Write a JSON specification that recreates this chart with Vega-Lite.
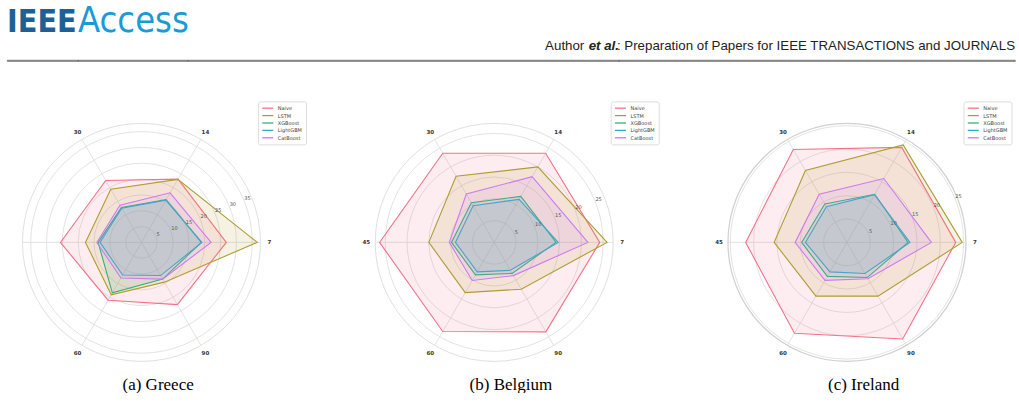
{
  "$schema": "https://vega.github.io/schema/vega-lite/v6.json",
  "background": "white",
  "padding": {"left": 6, "top": 2, "right": 0, "bottom": 0},
  "config": {"view": {"stroke": null}, "font": "DejaVu Sans"},
  "datasets": {
    "scores": [
      {"country": "Greece", "model": "Naive", "horizon": 7, "value": 26.8},
      {"country": "Greece", "model": "Naive", "horizon": 14, "value": 23.1},
      {"country": "Greece", "model": "Naive", "horizon": 30, "value": 22.6},
      {"country": "Greece", "model": "Naive", "horizon": 45, "value": 25.6},
      {"country": "Greece", "model": "Naive", "horizon": 60, "value": 21.1},
      {"country": "Greece", "model": "Naive", "horizon": 90, "value": 22.7},
      {"country": "Greece", "model": "LSTM", "horizon": 7, "value": 36.6},
      {"country": "Greece", "model": "LSTM", "horizon": 14, "value": 23.0},
      {"country": "Greece", "model": "LSTM", "horizon": 30, "value": 19.4},
      {"country": "Greece", "model": "LSTM", "horizon": 45, "value": 17.7},
      {"country": "Greece", "model": "LSTM", "horizon": 60, "value": 19.1},
      {"country": "Greece", "model": "LSTM", "horizon": 90, "value": 14.5},
      {"country": "Greece", "model": "XGBoost", "horizon": 7, "value": 18.9},
      {"country": "Greece", "model": "XGBoost", "horizon": 14, "value": 15.6},
      {"country": "Greece", "model": "XGBoost", "horizon": 30, "value": 12.7},
      {"country": "Greece", "model": "XGBoost", "horizon": 45, "value": 13.7},
      {"country": "Greece", "model": "XGBoost", "horizon": 60, "value": 18.4},
      {"country": "Greece", "model": "XGBoost", "horizon": 90, "value": 13.4},
      {"country": "Greece", "model": "LightGBM", "horizon": 7, "value": 19.1},
      {"country": "Greece", "model": "LightGBM", "horizon": 14, "value": 15.4},
      {"country": "Greece", "model": "LightGBM", "horizon": 30, "value": 12.5},
      {"country": "Greece", "model": "LightGBM", "horizon": 45, "value": 13.1},
      {"country": "Greece", "model": "LightGBM", "horizon": 60, "value": 11.9},
      {"country": "Greece", "model": "LightGBM", "horizon": 90, "value": 12.1},
      {"country": "Greece", "model": "CatBoost", "horizon": 7, "value": 22.0},
      {"country": "Greece", "model": "CatBoost", "horizon": 14, "value": 18.1},
      {"country": "Greece", "model": "CatBoost", "horizon": 30, "value": 13.6},
      {"country": "Greece", "model": "CatBoost", "horizon": 45, "value": 14.1},
      {"country": "Greece", "model": "CatBoost", "horizon": 60, "value": 13.0},
      {"country": "Greece", "model": "CatBoost", "horizon": 90, "value": 13.4},
      {"country": "Belgium", "model": "Naive", "horizon": 7, "value": 24.2},
      {"country": "Belgium", "model": "Naive", "horizon": 14, "value": 23.6},
      {"country": "Belgium", "model": "Naive", "horizon": 30, "value": 23.6},
      {"country": "Belgium", "model": "Naive", "horizon": 45, "value": 26.3},
      {"country": "Belgium", "model": "Naive", "horizon": 60, "value": 23.6},
      {"country": "Belgium", "model": "Naive", "horizon": 90, "value": 23.7},
      {"country": "Belgium", "model": "LSTM", "horizon": 7, "value": 25.9},
      {"country": "Belgium", "model": "LSTM", "horizon": 14, "value": 20.0},
      {"country": "Belgium", "model": "LSTM", "horizon": 30, "value": 17.5},
      {"country": "Belgium", "model": "LSTM", "horizon": 45, "value": 15.0},
      {"country": "Belgium", "model": "LSTM", "horizon": 60, "value": 13.3},
      {"country": "Belgium", "model": "LSTM", "horizon": 90, "value": 12.4},
      {"country": "Belgium", "model": "XGBoost", "horizon": 7, "value": 14.2},
      {"country": "Belgium", "model": "XGBoost", "horizon": 14, "value": 12.2},
      {"country": "Belgium", "model": "XGBoost", "horizon": 30, "value": 10.5},
      {"country": "Belgium", "model": "XGBoost", "horizon": 45, "value": 9.8},
      {"country": "Belgium", "model": "XGBoost", "horizon": 60, "value": 8.6},
      {"country": "Belgium", "model": "XGBoost", "horizon": 90, "value": 8.2},
      {"country": "Belgium", "model": "LightGBM", "horizon": 7, "value": 14.7},
      {"country": "Belgium", "model": "LightGBM", "horizon": 14, "value": 11.4},
      {"country": "Belgium", "model": "LightGBM", "horizon": 30, "value": 9.7},
      {"country": "Belgium", "model": "LightGBM", "horizon": 45, "value": 8.9},
      {"country": "Belgium", "model": "LightGBM", "horizon": 60, "value": 7.8},
      {"country": "Belgium", "model": "LightGBM", "horizon": 90, "value": 7.4},
      {"country": "Belgium", "model": "CatBoost", "horizon": 7, "value": 21.5},
      {"country": "Belgium", "model": "CatBoost", "horizon": 14, "value": 17.4},
      {"country": "Belgium", "model": "CatBoost", "horizon": 30, "value": 12.8},
      {"country": "Belgium", "model": "CatBoost", "horizon": 45, "value": 10.3},
      {"country": "Belgium", "model": "CatBoost", "horizon": 60, "value": 10.1},
      {"country": "Belgium", "model": "CatBoost", "horizon": 90, "value": 8.8},
      {"country": "Ireland", "model": "Naive", "horizon": 7, "value": 23.3},
      {"country": "Ireland", "model": "Naive", "horizon": 14, "value": 23.5},
      {"country": "Ireland", "model": "Naive", "horizon": 30, "value": 23.0},
      {"country": "Ireland", "model": "Naive", "horizon": 45, "value": 21.7},
      {"country": "Ireland", "model": "Naive", "horizon": 60, "value": 22.5},
      {"country": "Ireland", "model": "Naive", "horizon": 90, "value": 23.9},
      {"country": "Ireland", "model": "LSTM", "horizon": 7, "value": 24.7},
      {"country": "Ireland", "model": "LSTM", "horizon": 14, "value": 24.1},
      {"country": "Ireland", "model": "LSTM", "horizon": 30, "value": 17.8},
      {"country": "Ireland", "model": "LSTM", "horizon": 45, "value": 15.6},
      {"country": "Ireland", "model": "LSTM", "horizon": 60, "value": 13.3},
      {"country": "Ireland", "model": "LSTM", "horizon": 90, "value": 13.3},
      {"country": "Ireland", "model": "XGBoost", "horizon": 7, "value": 13.1},
      {"country": "Ireland", "model": "XGBoost", "horizon": 14, "value": 11.9},
      {"country": "Ireland", "model": "XGBoost", "horizon": 30, "value": 9.5},
      {"country": "Ireland", "model": "XGBoost", "horizon": 45, "value": 9.7},
      {"country": "Ireland", "model": "XGBoost", "horizon": 60, "value": 8.4},
      {"country": "Ireland", "model": "XGBoost", "horizon": 90, "value": 8.7},
      {"country": "Ireland", "model": "LightGBM", "horizon": 7, "value": 13.5},
      {"country": "Ireland", "model": "LightGBM", "horizon": 14, "value": 11.8},
      {"country": "Ireland", "model": "LightGBM", "horizon": 30, "value": 8.8},
      {"country": "Ireland", "model": "LightGBM", "horizon": 45, "value": 8.9},
      {"country": "Ireland", "model": "LightGBM", "horizon": 60, "value": 7.3},
      {"country": "Ireland", "model": "LightGBM", "horizon": 90, "value": 7.7},
      {"country": "Ireland", "model": "CatBoost", "horizon": 7, "value": 18.1},
      {"country": "Ireland", "model": "CatBoost", "horizon": 14, "value": 15.8},
      {"country": "Ireland", "model": "CatBoost", "horizon": 30, "value": 11.9},
      {"country": "Ireland", "model": "CatBoost", "horizon": 45, "value": 11.1},
      {"country": "Ireland", "model": "CatBoost", "horizon": 60, "value": 9.4},
      {"country": "Ireland", "model": "CatBoost", "horizon": 90, "value": 9.0}
    ],
    "horizons": [
      {"horizon": 7}, {"horizon": 14}, {"horizon": 30}, {"horizon": 45}, {"horizon": 60}, {"horizon": 90}
    ],
    "ticks": [
      {"country": "Greece", "r": 5}, {"country": "Greece", "r": 10}, {"country": "Greece", "r": 15},
      {"country": "Greece", "r": 20}, {"country": "Greece", "r": 25}, {"country": "Greece", "r": 30},
      {"country": "Greece", "r": 35},
      {"country": "Belgium", "r": 5}, {"country": "Belgium", "r": 10}, {"country": "Belgium", "r": 15},
      {"country": "Belgium", "r": 20}, {"country": "Belgium", "r": 25},
      {"country": "Ireland", "r": 5}, {"country": "Ireland", "r": 10}, {"country": "Ireland", "r": 15},
      {"country": "Ireland", "r": 20}, {"country": "Ireland", "r": 25}
    ]
  },
  "spacing": 36.4,
  "vconcat": [
    {
      "hconcat": [
        {
          "width": 71, "height": 1,
          "view": {"stroke": "#555555", "strokeWidth": 0.8},
          "title": {"text": "IEEE", "anchor": "start", "orient": "top", "font": "Liberation Sans Narrow, DejaVu Sans Condensed, sans-serif", "fontSize": 32, "fontWeight": "bold", "color": "#1d5f96", "baseline": "alphabetic", "offset": -3.5, "frame": "group"},
          "data": {"values": []},
          "mark": "point",
          "encoding": {}
        },
        {
          "width": 110, "height": 1,
          "view": {"stroke": "#555555", "strokeWidth": 0.8},
          "title": {"text": "Access", "anchor": "start", "orient": "top", "font": "Liberation Sans Narrow, DejaVu Sans Condensed, sans-serif", "fontSize": 36, "fontWeight": "normal", "color": "#1a9ad6", "baseline": "alphabetic", "offset": -7.5, "frame": "group"},
          "data": {"values": []},
          "mark": "point",
          "encoding": {}
        },
        {
          "width": 396.3, "height": 1,
          "view": {"stroke": "#555555", "strokeWidth": 0.8},
          "title": {"text": "Author", "anchor": "end", "orient": "top", "font": "Liberation Sans", "fontSize": 13.3, "fontWeight": "normal", "color": "#222222", "baseline": "alphabetic", "offset": -3.3, "frame": "group"},
          "data": {"values": []},
          "mark": "point",
          "encoding": {}
        },
        {
          "width": 34, "height": 1,
          "view": {"stroke": "#555555", "strokeWidth": 0.8},
          "title": {"text": "et al.", "anchor": "end", "orient": "top", "font": "Liberation Sans", "fontSize": 13.3, "fontWeight": "bold", "fontStyle": "italic", "color": "#222222", "baseline": "alphabetic", "offset": -3.3, "frame": "group"},
          "data": {"values": []},
          "mark": "point",
          "encoding": {}
        },
        {
          "width": 396, "height": 1,
          "view": {"stroke": "#555555", "strokeWidth": 0.8},
          "title": {"text": ": Preparation of Papers for IEEE TRANSACTIONS and JOURNALS", "anchor": "end", "orient": "top", "font": "Liberation Sans", "fontSize": 13.3, "fontWeight": "normal", "color": "#222222", "baseline": "alphabetic", "offset": -3.3, "frame": "group"},
          "data": {"values": []},
          "mark": "point",
          "encoding": {}
        }
      ],
      "spacing": 0,
      "bounds": "flush"
    },
    {
      "hconcat": [
        {
          "width": 302.26, "height": 266.56,
          "title": {"text": "(a) Greece", "orient": "bottom", "anchor": "middle", "font": "Liberation Serif", "fontSize": 17, "fontWeight": "normal", "color": "#000000", "baseline": "alphabetic", "offset": 25},
          "layer": [
            {
              "data": {"name": "ticks"},
              "transform": [{"filter": "datum.country === 'Greece'"}],
              "mark": {"type": "point", "shape": "circle", "filled": false, "stroke": "#dcdcdc", "strokeWidth": 0.8, "opacity": 1},
              "encoding": {
                "x": {"datum": 0, "type": "quantitative", "scale": {"domain": [-1.13, 1.41], "nice": false, "zero": false}, "axis": null},
                "y": {"datum": 0, "type": "quantitative", "scale": {"domain": [-1.03, 1.21], "nice": false, "zero": false}, "axis": null},
                "size": {"field": "r", "type": "quantitative", "scale": {"type": "pow", "exponent": 2, "domain": [0, 37.6], "range": [0, 56644], "nice": false}, "legend": null}
              }
            },
            {
              "data": {"values": [{"rim": "outer"}]},
              "mark": {"type": "point", "shape": "circle", "filled": false, "stroke": "#dcdcdc", "strokeWidth": 0.9, "opacity": 1, "size": 56644},
              "encoding": {
                "x": {"datum": 0, "type": "quantitative", "scale": {"domain": [-1.13, 1.41], "nice": false, "zero": false}, "axis": null},
                "y": {"datum": 0, "type": "quantitative", "scale": {"domain": [-1.03, 1.21], "nice": false, "zero": false}, "axis": null}
              }
            },
            {
              "data": {"name": "horizons"},
              "transform": [
                {"calculate": "indexof([7,14,30,45,60,90], datum.horizon) * PI / 3", "as": "ang"},
                {"calculate": "cos(datum.ang)", "as": "ex"},
                {"calculate": "sin(datum.ang)", "as": "ey"},
                {"calculate": "0", "as": "o"}
              ],
              "mark": {"type": "rule", "stroke": "#dcdcdc", "strokeWidth": 0.8},
              "encoding": {
                "x": {"field": "o", "type": "quantitative", "scale": {"domain": [-1.13, 1.41], "nice": false, "zero": false}, "axis": null},
                "y": {"field": "o", "type": "quantitative", "scale": {"domain": [-1.03, 1.21], "nice": false, "zero": false}, "axis": null},
                "x2": {"field": "ex"},
                "y2": {"field": "ey"}
              }
            },
            {
              "data": {"name": "scores"},
              "transform": [
                {"filter": "datum.country === 'Greece'"},
                {"calculate": "indexof([7,14,30,45,60,90], datum.horizon) * PI / 3", "as": "ang"},
                {"calculate": "cos(datum.ang) * datum.value / 37.6", "as": "px"},
                {"calculate": "sin(datum.ang) * datum.value / 37.6", "as": "py"}
              ],
              "mark": {"type": "line", "interpolate": "linear-closed", "strokeWidth": 1.1, "fillOpacity": 0.13},
              "encoding": {
                "x": {"field": "px", "type": "quantitative", "scale": {"domain": [-1.13, 1.41], "nice": false, "zero": false}, "axis": null},
                "y": {"field": "py", "type": "quantitative", "scale": {"domain": [-1.03, 1.21], "nice": false, "zero": false}, "axis": null},
                "order": {"field": "ang", "type": "quantitative"},
                "color": {"field": "model", "type": "nominal",
                  "scale": {"domain": ["Naive", "LSTM", "XGBoost", "LightGBM", "CatBoost"], "range": ["#f77189", "#ae9d31", "#33b07a", "#38a9c5", "#cc7af4"]},
                  "legend": {"title": null, "orient": "top-right", "offset": 3, "symbolType": "M-2.2,0H2.2", "symbolSize": 25, "symbolStrokeWidth": 1.3, "symbolOffset": 3, "labelFont": "DejaVu Sans", "labelFontSize": 5, "labelColor": "#444444", "labelOffset": 6.5, "rowPadding": 0.4, "padding": 3.3, "strokeColor": "#dddddd", "fillColor": "white", "cornerRadius": 2}},
                "fill": {"field": "model", "type": "nominal",
                  "scale": {"domain": ["Naive", "LSTM", "XGBoost", "LightGBM", "CatBoost"], "range": ["#f77189", "#ae9d31", "#33b07a", "#38a9c5", "#cc7af4"]},
                  "legend": null}
              }
            },
            {
              "data": {"name": "horizons"},
              "transform": [
                {"filter": "datum.horizon !== 45"},
                {"calculate": "indexof([7,14,30,45,60,90], datum.horizon) * PI / 3", "as": "ang"},
                {"calculate": "1.075 * cos(datum.ang)", "as": "lx"},
                {"calculate": "1.075 * sin(datum.ang)", "as": "ly"}
              ],
              "mark": {"type": "text", "font": "DejaVu Sans", "fontSize": 5.5, "fontWeight": "bold", "color": "#333333", "align": "center", "baseline": "middle"},
              "encoding": {
                "x": {"field": "lx", "type": "quantitative", "scale": {"domain": [-1.13, 1.41], "nice": false, "zero": false}, "axis": null},
                "y": {"field": "ly", "type": "quantitative", "scale": {"domain": [-1.03, 1.21], "nice": false, "zero": false}, "axis": null},
                "text": {"field": "horizon", "type": "nominal"}
              }
            },
            {
              "data": {"name": "ticks"},
              "transform": [
                {"filter": "datum.country === 'Greece'"},
                {"calculate": "cos(PI / 8) * datum.r / 37.6", "as": "tx"},
                {"calculate": "sin(PI / 8) * datum.r / 37.6", "as": "ty"}
              ],
              "mark": {"type": "text", "font": "DejaVu Sans", "fontSize": 5, "color": "#555555", "align": "left", "baseline": "alphabetic", "dx": 0.5},
              "encoding": {
                "x": {"field": "tx", "type": "quantitative", "scale": {"domain": [-1.13, 1.41], "nice": false, "zero": false}, "axis": null},
                "y": {"field": "ty", "type": "quantitative", "scale": {"domain": [-1.03, 1.21], "nice": false, "zero": false}, "axis": null},
                "text": {"field": "r", "type": "nominal"}
              }
            }
          ]
        },
        {
          "width": 302.26, "height": 266.56,
          "title": {"text": "(b) Belgium", "orient": "bottom", "anchor": "middle", "font": "Liberation Serif", "fontSize": 17, "fontWeight": "normal", "color": "#000000", "baseline": "alphabetic", "offset": 25},
          "layer": [
            {
              "data": {"name": "ticks"},
              "transform": [{"filter": "datum.country === 'Belgium'"}],
              "mark": {"type": "point", "shape": "circle", "filled": false, "stroke": "#dcdcdc", "strokeWidth": 0.8, "opacity": 1},
              "encoding": {
                "x": {"datum": 0, "type": "quantitative", "scale": {"domain": [-1.13, 1.41], "nice": false, "zero": false}, "axis": null},
                "y": {"datum": 0, "type": "quantitative", "scale": {"domain": [-1.03, 1.21], "nice": false, "zero": false}, "axis": null},
                "size": {"field": "r", "type": "quantitative", "scale": {"type": "pow", "exponent": 2, "domain": [0, 27.3], "range": [0, 56644], "nice": false}, "legend": null}
              }
            },
            {
              "data": {"values": [{"rim": "outer"}]},
              "mark": {"type": "point", "shape": "circle", "filled": false, "stroke": "#dcdcdc", "strokeWidth": 0.9, "opacity": 1, "size": 56644},
              "encoding": {
                "x": {"datum": 0, "type": "quantitative", "scale": {"domain": [-1.13, 1.41], "nice": false, "zero": false}, "axis": null},
                "y": {"datum": 0, "type": "quantitative", "scale": {"domain": [-1.03, 1.21], "nice": false, "zero": false}, "axis": null}
              }
            },
            {
              "data": {"name": "horizons"},
              "transform": [
                {"calculate": "indexof([7,14,30,45,60,90], datum.horizon) * PI / 3", "as": "ang"},
                {"calculate": "cos(datum.ang)", "as": "ex"},
                {"calculate": "sin(datum.ang)", "as": "ey"},
                {"calculate": "0", "as": "o"}
              ],
              "mark": {"type": "rule", "stroke": "#dcdcdc", "strokeWidth": 0.8},
              "encoding": {
                "x": {"field": "o", "type": "quantitative", "scale": {"domain": [-1.13, 1.41], "nice": false, "zero": false}, "axis": null},
                "y": {"field": "o", "type": "quantitative", "scale": {"domain": [-1.03, 1.21], "nice": false, "zero": false}, "axis": null},
                "x2": {"field": "ex"},
                "y2": {"field": "ey"}
              }
            },
            {
              "data": {"name": "scores"},
              "transform": [
                {"filter": "datum.country === 'Belgium'"},
                {"calculate": "indexof([7,14,30,45,60,90], datum.horizon) * PI / 3", "as": "ang"},
                {"calculate": "cos(datum.ang) * datum.value / 27.3", "as": "px"},
                {"calculate": "sin(datum.ang) * datum.value / 27.3", "as": "py"}
              ],
              "mark": {"type": "line", "interpolate": "linear-closed", "strokeWidth": 1.1, "fillOpacity": 0.13},
              "encoding": {
                "x": {"field": "px", "type": "quantitative", "scale": {"domain": [-1.13, 1.41], "nice": false, "zero": false}, "axis": null},
                "y": {"field": "py", "type": "quantitative", "scale": {"domain": [-1.03, 1.21], "nice": false, "zero": false}, "axis": null},
                "order": {"field": "ang", "type": "quantitative"},
                "color": {"field": "model", "type": "nominal",
                  "scale": {"domain": ["Naive", "LSTM", "XGBoost", "LightGBM", "CatBoost"], "range": ["#f77189", "#ae9d31", "#33b07a", "#38a9c5", "#cc7af4"]},
                  "legend": {"title": null, "orient": "top-right", "offset": 3, "symbolType": "M-2.2,0H2.2", "symbolSize": 25, "symbolStrokeWidth": 1.3, "symbolOffset": 3, "labelFont": "DejaVu Sans", "labelFontSize": 5, "labelColor": "#444444", "labelOffset": 6.5, "rowPadding": 0.4, "padding": 3.3, "strokeColor": "#dddddd", "fillColor": "white", "cornerRadius": 2}},
                "fill": {"field": "model", "type": "nominal",
                  "scale": {"domain": ["Naive", "LSTM", "XGBoost", "LightGBM", "CatBoost"], "range": ["#f77189", "#ae9d31", "#33b07a", "#38a9c5", "#cc7af4"]},
                  "legend": null}
              }
            },
            {
              "data": {"name": "horizons"},
              "transform": [
                {"calculate": "indexof([7,14,30,45,60,90], datum.horizon) * PI / 3", "as": "ang"},
                {"calculate": "1.075 * cos(datum.ang)", "as": "lx"},
                {"calculate": "1.075 * sin(datum.ang)", "as": "ly"}
              ],
              "mark": {"type": "text", "font": "DejaVu Sans", "fontSize": 5.5, "fontWeight": "bold", "color": "#333333", "align": "center", "baseline": "middle"},
              "encoding": {
                "x": {"field": "lx", "type": "quantitative", "scale": {"domain": [-1.13, 1.41], "nice": false, "zero": false}, "axis": null},
                "y": {"field": "ly", "type": "quantitative", "scale": {"domain": [-1.03, 1.21], "nice": false, "zero": false}, "axis": null},
                "text": {"field": "horizon", "type": "nominal"}
              }
            },
            {
              "data": {"name": "ticks"},
              "transform": [
                {"filter": "datum.country === 'Belgium'"},
                {"calculate": "cos(PI / 8) * datum.r / 27.3", "as": "tx"},
                {"calculate": "sin(PI / 8) * datum.r / 27.3", "as": "ty"}
              ],
              "mark": {"type": "text", "font": "DejaVu Sans", "fontSize": 5, "color": "#555555", "align": "left", "baseline": "alphabetic", "dx": 0.5},
              "encoding": {
                "x": {"field": "tx", "type": "quantitative", "scale": {"domain": [-1.13, 1.41], "nice": false, "zero": false}, "axis": null},
                "y": {"field": "ty", "type": "quantitative", "scale": {"domain": [-1.03, 1.21], "nice": false, "zero": false}, "axis": null},
                "text": {"field": "r", "type": "nominal"}
              }
            }
          ]
        },
        {
          "width": 302.26, "height": 266.56,
          "title": {"text": "(c) Ireland", "orient": "bottom", "anchor": "middle", "font": "Liberation Serif", "fontSize": 17, "fontWeight": "normal", "color": "#000000", "baseline": "alphabetic", "offset": 25},
          "layer": [
            {
              "data": {"name": "ticks"},
              "transform": [{"filter": "datum.country === 'Ireland'"}],
              "mark": {"type": "point", "shape": "circle", "filled": false, "stroke": "#dcdcdc", "strokeWidth": 0.8, "opacity": 1},
              "encoding": {
                "x": {"datum": 0, "type": "quantitative", "scale": {"domain": [-1.13, 1.41], "nice": false, "zero": false}, "axis": null},
                "y": {"datum": 0, "type": "quantitative", "scale": {"domain": [-1.03, 1.21], "nice": false, "zero": false}, "axis": null},
                "size": {"field": "r", "type": "quantitative", "scale": {"type": "pow", "exponent": 2, "domain": [0, 25.5], "range": [0, 56644], "nice": false}, "legend": null}
              }
            },
            {
              "data": {"values": [{"rim": "outer"}]},
              "mark": {"type": "point", "shape": "circle", "filled": false, "stroke": "#d0d0d0", "strokeWidth": 1.2, "opacity": 1, "size": 56644},
              "encoding": {
                "x": {"datum": 0, "type": "quantitative", "scale": {"domain": [-1.13, 1.41], "nice": false, "zero": false}, "axis": null},
                "y": {"datum": 0, "type": "quantitative", "scale": {"domain": [-1.03, 1.21], "nice": false, "zero": false}, "axis": null}
              }
            },
            {
              "data": {"name": "horizons"},
              "transform": [
                {"calculate": "indexof([7,14,30,45,60,90], datum.horizon) * PI / 3", "as": "ang"},
                {"calculate": "cos(datum.ang)", "as": "ex"},
                {"calculate": "sin(datum.ang)", "as": "ey"},
                {"calculate": "0", "as": "o"}
              ],
              "mark": {"type": "rule", "stroke": "#dcdcdc", "strokeWidth": 0.8},
              "encoding": {
                "x": {"field": "o", "type": "quantitative", "scale": {"domain": [-1.13, 1.41], "nice": false, "zero": false}, "axis": null},
                "y": {"field": "o", "type": "quantitative", "scale": {"domain": [-1.03, 1.21], "nice": false, "zero": false}, "axis": null},
                "x2": {"field": "ex"},
                "y2": {"field": "ey"}
              }
            },
            {
              "data": {"name": "scores"},
              "transform": [
                {"filter": "datum.country === 'Ireland'"},
                {"calculate": "indexof([7,14,30,45,60,90], datum.horizon) * PI / 3", "as": "ang"},
                {"calculate": "cos(datum.ang) * datum.value / 25.5", "as": "px"},
                {"calculate": "sin(datum.ang) * datum.value / 25.5", "as": "py"}
              ],
              "mark": {"type": "line", "interpolate": "linear-closed", "strokeWidth": 1.1, "fillOpacity": 0.13},
              "encoding": {
                "x": {"field": "px", "type": "quantitative", "scale": {"domain": [-1.13, 1.41], "nice": false, "zero": false}, "axis": null},
                "y": {"field": "py", "type": "quantitative", "scale": {"domain": [-1.03, 1.21], "nice": false, "zero": false}, "axis": null},
                "order": {"field": "ang", "type": "quantitative"},
                "color": {"field": "model", "type": "nominal",
                  "scale": {"domain": ["Naive", "LSTM", "XGBoost", "LightGBM", "CatBoost"], "range": ["#f77189", "#ae9d31", "#33b07a", "#38a9c5", "#cc7af4"]},
                  "legend": {"title": null, "orient": "top-right", "offset": 3, "symbolType": "M-2.2,0H2.2", "symbolSize": 25, "symbolStrokeWidth": 1.3, "symbolOffset": 3, "labelFont": "DejaVu Sans", "labelFontSize": 5, "labelColor": "#444444", "labelOffset": 6.5, "rowPadding": 0.4, "padding": 3.3, "strokeColor": "#dddddd", "fillColor": "white", "cornerRadius": 2}},
                "fill": {"field": "model", "type": "nominal",
                  "scale": {"domain": ["Naive", "LSTM", "XGBoost", "LightGBM", "CatBoost"], "range": ["#f77189", "#ae9d31", "#33b07a", "#38a9c5", "#cc7af4"]},
                  "legend": null}
              }
            },
            {
              "data": {"name": "horizons"},
              "transform": [
                {"calculate": "indexof([7,14,30,45,60,90], datum.horizon) * PI / 3", "as": "ang"},
                {"calculate": "1.075 * cos(datum.ang)", "as": "lx"},
                {"calculate": "1.075 * sin(datum.ang)", "as": "ly"}
              ],
              "mark": {"type": "text", "font": "DejaVu Sans", "fontSize": 5.5, "fontWeight": "bold", "color": "#333333", "align": "center", "baseline": "middle"},
              "encoding": {
                "x": {"field": "lx", "type": "quantitative", "scale": {"domain": [-1.13, 1.41], "nice": false, "zero": false}, "axis": null},
                "y": {"field": "ly", "type": "quantitative", "scale": {"domain": [-1.03, 1.21], "nice": false, "zero": false}, "axis": null},
                "text": {"field": "horizon", "type": "nominal"}
              }
            },
            {
              "data": {"name": "ticks"},
              "transform": [
                {"filter": "datum.country === 'Ireland'"},
                {"calculate": "cos(PI / 8) * datum.r / 25.5", "as": "tx"},
                {"calculate": "sin(PI / 8) * datum.r / 25.5", "as": "ty"}
              ],
              "mark": {"type": "text", "font": "DejaVu Sans", "fontSize": 5, "color": "#555555", "align": "left", "baseline": "alphabetic", "dx": 0.5},
              "encoding": {
                "x": {"field": "tx", "type": "quantitative", "scale": {"domain": [-1.13, 1.41], "nice": false, "zero": false}, "axis": null},
                "y": {"field": "ty", "type": "quantitative", "scale": {"domain": [-1.03, 1.21], "nice": false, "zero": false}, "axis": null},
                "text": {"field": "r", "type": "nominal"}
              }
            }
          ]
        }
      ],
      "spacing": 49.74,
      "bounds": "flush",
      "resolve": {"scale": {"x": "independent", "y": "independent", "size": "independent", "color": "independent", "fill": "independent"}, "legend": {"color": "independent"}}
    }
  ]
}
